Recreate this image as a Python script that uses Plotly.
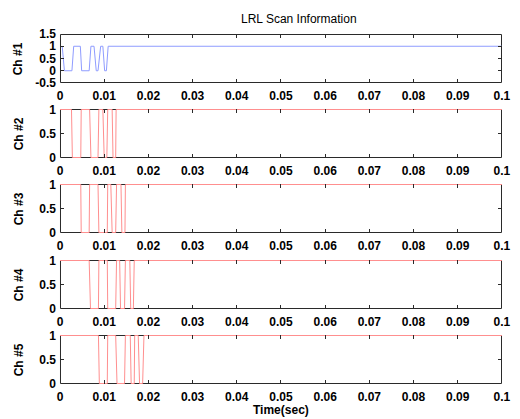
import plotly.graph_objects as go

# ---- data ----
ch1_t = [0.0005, 0.0010, 0.0027, 0.0031, 0.0046, 0.0049, 0.0066, 0.0070, 0.0077,
         0.0082, 0.0086, 0.0092, 0.0097, 0.0101, 0.0105, 0.0109, 0.1]
ch1_v = [1, 0, 0, 1, 1, 0, 0, 1, 1, 0, 0, 1, 1, 0, 0, 1, 1]

ch2_t = [0, 0.0026, 0.0028, 0.0047, 0.0048, 0.0067, 0.0070, 0.0086, 0.0088,
         0.0097, 0.0100, 0.0106, 0.0108, 0.0118, 0.0120, 0.0126, 0.0127, 0.1]
ch2_v = [1, 1, 0, 0, 1, 1, 0, 0, 1, 1, 0, 0, 1, 1, 0, 0, 1, 1]

ch3_t = [0, 0.0047, 0.0048, 0.0066, 0.0067, 0.0086, 0.0088, 0.0107, 0.0108,
         0.0115, 0.0118, 0.0126, 0.0128, 0.0138, 0.0140, 0.0147, 0.0148, 0.1]
ch3_v = [1, 1, 0, 0, 1, 1, 0, 0, 1, 1, 0, 0, 1, 1, 0, 0, 1, 1]

ch4_t = [0, 0.0066, 0.0069, 0.0087, 0.0088, 0.0107, 0.0108, 0.0126, 0.0128,
         0.0135, 0.0137, 0.0146, 0.0148, 0.0158, 0.0160, 0.0166, 0.0168, 0.1]
ch4_v = [1, 1, 0, 0, 1, 1, 0, 0, 1, 1, 0, 0, 1, 1, 0, 0, 1, 1]

ch5_t = [0, 0.0087, 0.0089, 0.0107, 0.0108, 0.0126, 0.0129, 0.0146, 0.0148,
         0.0159, 0.0161, 0.0168, 0.0169, 0.0177, 0.0180, 0.0187, 0.0190, 0.1]
ch5_v = [1, 1, 0, 0, 1, 1, 0, 0, 1, 1, 0, 0, 1, 1, 0, 0, 1, 1]

channel_labels = ["Ch #1", "Ch #2", "Ch #3", "Ch #4", "Ch #5"]
x_tickvals = [0, 0.01, 0.02, 0.03, 0.04, 0.05, 0.06, 0.07, 0.08, 0.09, 0.1]
x_ticktext = ["0", "0.01", "0.02", "0.03", "0.04", "0.05", "0.06", "0.07", "0.08", "0.09", "0.1"]
y1_tickvals = [-0.5, 0, 0.5, 1, 1.5]
y1_ticktext = ["-0.5", "0", "0.5", "1", "1.5"]
y_tickvals = [0, 0.5, 1]
y_ticktext = ["0", "0.5", "1"]

series = [(ch1_t, ch1_v), (ch2_t, ch2_v), (ch3_t, ch3_v), (ch4_t, ch4_v), (ch5_t, ch5_v)]
colors = ["#8f9cff", "#ff8f8f", "#ff8f8f", "#ff8f8f", "#ff8f8f"]

W, H = 520, 419
ML, MR, MT, MB = 60, 9, 34, 35
plot_h = H - MT - MB
plot_w = W - ML - MR
# panel pixel extents in the page (top, bottom)
panels = [(34, 83), (109, 158), (184, 233), (260, 309), (335, 384)]

FONT = "Liberation Sans, Arial, Helvetica, sans-serif"
AXC = "#2a2a2a"
TICKFONT = dict(family=FONT, size=12, color="black", weight="bold")

fig = go.Figure()
layout = dict(
    width=W, height=H,
    margin=dict(l=ML, r=MR, t=MT, b=MB),
    paper_bgcolor="white", plot_bgcolor="white",
    showlegend=False,
    font=dict(family=FONT, size=12, color="black"),
)
shapes = []
hx = 0.5 / plot_w
for i, ((t, v), col, lab, (pt, pb)) in enumerate(zip(series, colors, channel_labels, panels)):
    n = i + 1
    xa = "x" if n == 1 else f"x{n}"
    ya = "y" if n == 1 else f"y{n}"
    fig.add_trace(go.Scatter(x=t, y=v, mode="lines", xaxis=xa, yaxis=ya,
                             line=dict(color=col, width=1), hoverinfo="skip"))
    ph = pb - pt
    d0 = (H - MB - pb) / plot_h
    d1 = (H - MB - pt) / plot_h
    xkey = "xaxis" if n == 1 else f"xaxis{n}"
    ykey = "yaxis" if n == 1 else f"yaxis{n}"
    layout[xkey] = dict(
        domain=[0, 1], anchor=ya, range=[0, 0.10002],
        tickvals=x_tickvals, ticktext=x_ticktext,
        ticks="inside", ticklen=4, tickcolor=AXC, tickwidth=1,
        showline=False, mirror="ticks",
        showgrid=False, zeroline=False, ticklabelstandoff=4,
        tickfont=TICKFONT,
    )
    if n == 1:
        yr = [-0.5, 1.5]
        tv, tt = y1_tickvals, y1_ticktext
    else:
        p = 0.5 / (ph - 1.0)
        yr = [-p, 1 + p]
        tv, tt = y_tickvals, y_ticktext
    layout[ykey] = dict(
        domain=[d0, d1], anchor=xa, range=yr,
        tickvals=tv, ticktext=tt,
        ticks="inside", ticklen=4, tickcolor=AXC, tickwidth=1,
        showline=False, mirror="ticks",
        showgrid=False, zeroline=False, ticklabelstandoff=3,
        tickfont=TICKFONT,
    )
    hy = 0.5 / ph
    shapes.append(dict(type="rect", xref=f"{xa} domain", yref=f"{ya} domain",
                       x0=hx, x1=1 - hx, y0=hy, y1=1 - hy, layer="below",
                       line=dict(color=AXC, width=1), fillcolor="rgba(0,0,0,0)"))

fig.update_layout(**layout)

annotations = []
for lab, (pt, pb) in zip(channel_labels, panels):
    yc = (H - MB - (pt + pb) / 2) / plot_h
    annotations.append(dict(text=lab, xref="paper", yref="paper",
                            x=(18 - ML) / plot_w, y=yc, textangle=-90,
                            xanchor="center", yanchor="middle", showarrow=False,
                            font=TICKFONT))
annotations.append(dict(text="LRL Scan Information", xref="paper", yref="paper",
                        x=(304 - ML) / plot_w, y=(H - MB - 19) / plot_h,
                        xanchor="center", yanchor="middle",
                        showarrow=False, font=dict(family=FONT, size=12, color="black")))
annotations.append(dict(text="Time(sec)", xref="paper", yref="paper",
                        x=(286 - ML) / plot_w, y=(H - MB - 410) / plot_h,
                        xanchor="center", yanchor="middle",
                        showarrow=False, font=TICKFONT))
fig.update_layout(annotations=annotations, shapes=shapes)

fig.write_html(
    "out.html",
    config={"displayModeBar": False, "staticPlot": True},
    post_script=(
        "document.documentElement.style.margin='0';"
        "document.body.style.margin='0';"
        "document.documentElement.style.overflow='hidden';"
        "document.body.style.overflow='hidden';"
    ),
)
